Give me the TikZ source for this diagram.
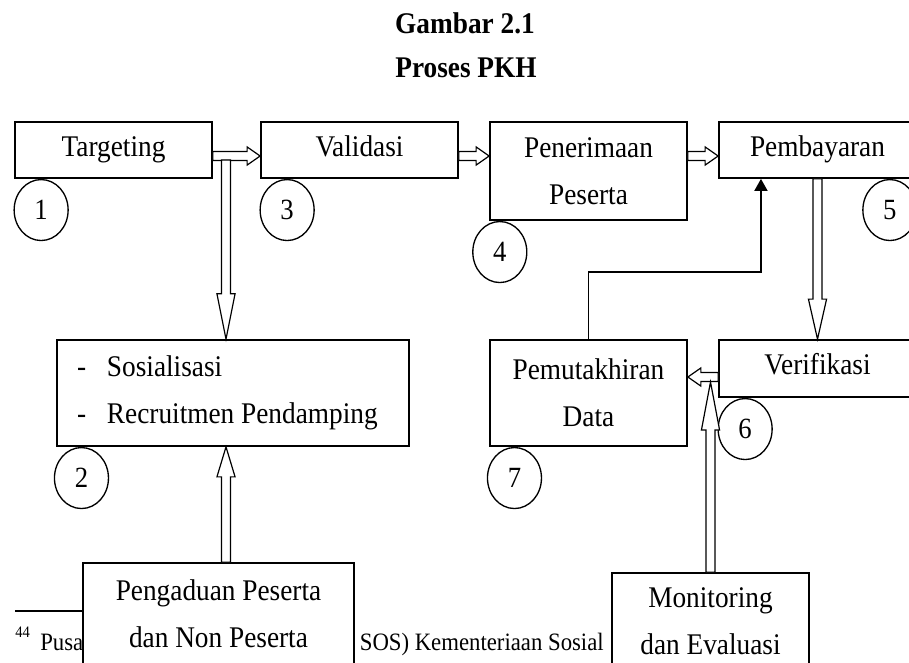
\documentclass[tikz,border=0pt]{standalone}
\usepackage{fontspec}
\setmainfont{Liberation Serif}[FakeStretch=0.91]
\usetikzlibrary{arrows.meta,calc,shapes.geometric}

\newcommand{\boxfont}{\fontsize{22.5}{35.25}\selectfont}
\newcommand{\notefont}{\fontsize{18.75}{22}\selectfont}

% hollow block arrow: {head length}{from}{to}
\newcommand{\hollowarr}[3]{%
  \coordinate (hs) at (#2);
  \coordinate (ht) at (#3);
  \coordinate (hb) at ($(ht)!#1!(hs)$);
  \draw[blockarr] ($(hs)!3.4pt!90:(ht)$) -- ($(hb)!3.4pt!-90:(hs)$)
    -- ($(hb)!6.8pt!-90:(hs)$) -- (ht) -- ($(hb)!6.8pt!90:(hs)$)
    -- ($(hb)!3.4pt!90:(hs)$) -- ($(hs)!3.4pt!-90:(ht)$) -- cycle;}

\tikzset{
  box/.style={draw, line width=1.3pt, fill=white, align=center, inner sep=0pt, font=\boxfont},
  oneline/.style={text height=14pt, text depth=5pt},
  num/.style={draw, ellipse, line width=1pt, minimum width=40.5pt, minimum height=45.75pt,
              inner sep=0pt, font=\fontsize{22}{22}\selectfont},
  title/.style={font=\fontsize{22.5}{26}\selectfont\bfseries},
  blockarr/.style={line width=0.9pt, fill=white, line join=miter},
  linkarr/.style={line width=1.3pt, -{Triangle[length=9pt,width=9.75pt]}}
}

\begin{document}
\begin{tikzpicture}[x=0.75pt,y=-0.75pt]
  \useasboundingbox (0,0) rectangle (909,662);
  \clip (0,0) rectangle (909,662);

  \node[title, anchor=base] (ttl) at (465,33) {Gambar 2.1};
  \node[title, anchor=base] (sub) at (466,77) {Proses PKH};

  % footnote behind the lower boxes
  \draw[line width=1.2pt] (15,611) -- (90,611);
  \node[anchor=base west, inner sep=0pt, font=\fontsize{12}{12}\selectfont] (fnum) at (15,637) {44};
  \node[anchor=base west, inner sep=0pt, font=\notefont] (fn1) at (40,650) {Pusa};
  \node[anchor=base east, inner sep=0pt, font=\notefont] (fn2) at (604,650) {SOS) Kementeriaan Sosial};

  % boxes
  \node[box, oneline, minimum width=147.75pt, minimum height=42pt] (tgt) at (113.5,150) {Targeting};
  \node[box, oneline, minimum width=147.75pt, minimum height=42pt] (val) at (359.5,150) {Validasi};
  \node[box, minimum width=147.75pt, minimum height=73.5pt] (pen) at (588.5,171) {Penerimaan\\Peserta};
  \node[box, oneline, minimum width=147.75pt, minimum height=42pt] (bay) at (817.5,150) {Pembayaran};
  \node[box, minimum width=264pt, minimum height=79.5pt, align=flush left, text width=234pt, inner xsep=15pt]
    (sos) at (233,393) {\makebox[22.5pt][l]{-}Sosialisasi\\\makebox[22.5pt][l]{-}Recruitmen Pendamping};
  \node[box, minimum width=147.75pt, minimum height=79.5pt] (pem) at (588.5,393) {Pemutakhiran\\Data};
  \node[box, oneline, minimum width=147.75pt, minimum height=42.75pt] (ver) at (817.5,368.5) {Verifikasi};
  \node[box, minimum width=203.25pt, minimum height=76.5pt] (pgd) at (218.5,614) {Pengaduan Peserta\\dan Non Peserta};
  \node[box, minimum width=147.75pt, minimum height=72.75pt] (mon) at (710.5,621.5) {Monitoring\\dan Evaluasi};

  % numbers
  \node[num, anchor=north] (n1) at ([xshift=20.25pt]tgt.south west) {1};
  \node[num, anchor=north] (n2) at ([xshift=19pt]sos.south west) {2};
  \node[num, anchor=north] (n3) at ([xshift=20.25pt]val.south west) {3};
  \node[num, anchor=north] (n4) at ([xshift=8pt]pen.south west) {4};
  \node[num, anchor=north] (n5) at ([xshift=-20.25pt]bay.south east) {5};
  \node[num, anchor=north] (n6) at ([xshift=20.25pt]ver.south west) {6};
  \node[num, anchor=north] (n7) at ([xshift=19pt]pem.south west) {7};

  % arrows
  \coordinate (row) at (0,156);
  \coordinate (row2) at (0,377);
  \coordinate (split) at (226,160);
  \coordinate (mtip) at (0,382);
  \hollowarr{9.75pt}{tgt.east |- row}{val.west |- row}
  \hollowarr{9.75pt}{val.east |- row}{pen.west |- row}
  \hollowarr{9.75pt}{pen.east |- row}{bay.west |- row}
  \hollowarr{34pt}{split}{split |- sos.north}
  \hollowarr{22.5pt}{split |- pgd.north}{split |- sos.south}
  \hollowarr{30pt}{bay.south}{ver.north}
  \hollowarr{9.75pt}{ver.west |- row2}{pem.east |- row2}
  \hollowarr{36pt}{mon.north}{mon.north |- mtip}
  \draw[linkarr] (pem.north) -- ++(0,-67) -| ([xshift=-42.4pt]bay.south);
\end{tikzpicture}
\end{document}
